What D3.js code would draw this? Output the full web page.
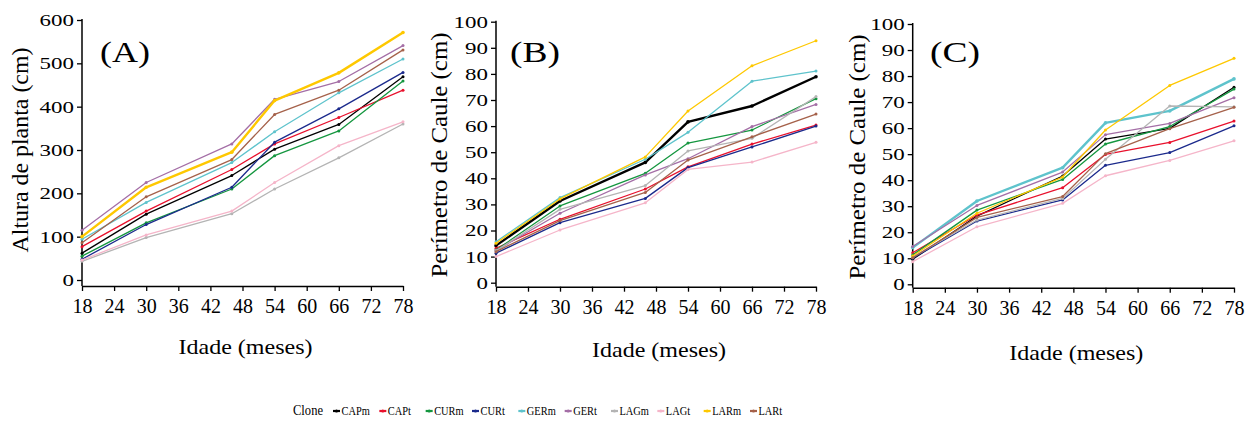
<!DOCTYPE html>
<html>
<head>
<meta charset="utf-8">
<title>Idade x crescimento</title>
<script src="https://d3js.org/d3.v7.min.js"></script>
<style>
	body { margin: 0; background: #fff; }
	svg text { font-family: "Liberation Serif", "Times New Roman", serif; fill: #000; }
</style>
</head>
<body>
<svg id="chart" width="1255" height="421"></svg>
<script>
	const FONTE = '"Liberation Serif", "Times New Roman", serif';
	// meses de avaliacao
	const months = [18, 30, 46, 54, 66, 78];
	const xTicks = [18, 24, 30, 36, 42, 48, 54, 60, 66, 72, 78];
	const clones = ["CAPm", "CAPt", "CURm", "CURt", "GERm", "GERt", "LAGm", "LAGt", "LARm", "LARt"];
	const cores = ["#000000", "#e8102c", "#14963f", "#1b2a8c", "#5ec3cc", "#a46ea6", "#b4b4b4", "#f5b5c9", "#fec800", "#a5614a"];

	// (A) altura de planta, cm - uma linha por clone
	const alturaPlanta = [
		[62, 152, 241, 302, 359, 469],
		[77, 159, 255, 314, 375, 438],
		[55, 132, 210, 287, 344, 459],
		[48, 128, 214, 318, 395, 479],
		[94, 179, 271, 342, 432, 510],
		[115, 225, 314, 417, 458, 541],
		[43, 98, 153, 210, 282, 360],
		[46, 104, 159, 225, 310, 365],
		[100, 214, 295, 414, 478, 571],
		[86, 192, 278, 382, 438, 531]
	];
	// (B) perimetro de caule, cm
	const perimetroB = [
		[14.2, 31.3, 46.1, 61.6, 67.7, 78.9],
		[13.2, 24.3, 35.9, 44.4, 53.1, 60.4],
		[12.5, 29.4, 41.9, 53.5, 58.5, 70.5],
		[11.3, 23.0, 32.3, 44.1, 52.0, 60.0],
		[15.7, 32.6, 47.3, 57.6, 77.2, 81.1],
		[12.3, 26.6, 41.3, 47.5, 59.8, 68.3],
		[12.2, 28.1, 37.2, 50.5, 55.3, 71.3],
		[10.0, 20.2, 30.6, 43.4, 46.2, 53.8],
		[15.1, 32.1, 48.2, 65.8, 83.1, 92.7],
		[11.9, 23.8, 34.6, 47.0, 55.9, 64.6]
	];
	// (C) perimetro de caule, cm
	const perimetroC = [
		[9.6, 26.2, 41.6, 55.8, 59.9, 75.7],
		[12.1, 26.6, 37.1, 49.9, 54.5, 62.7],
		[11.3, 28.5, 40.3, 53.9, 60.6, 75.0],
		[10.0, 24.3, 32.4, 45.7, 50.6, 60.9],
		[14.1, 32.0, 44.8, 62.0, 66.6, 78.9],
		[14.5, 30.3, 43.1, 57.5, 61.8, 71.7],
		[10.4, 24.7, 33.0, 48.0, 68.5, 68.2],
		[8.7, 22.1, 31.1, 41.7, 47.6, 55.1],
		[10.9, 27.3, 41.2, 59.3, 76.4, 86.8],
		[10.2, 25.7, 33.7, 50.2, 59.8, 68.0]
	];
	const yTicksA = [0, 100, 200, 300, 400, 500, 600];
	const yTicksBC = [0, 10, 20, 30, 40, 50, 60, 70, 80, 90, 100];

	const panels = [
		{ tag: "(A)", data: alturaPlanta, yMax: 600, yTicks: yTicksA, ylabel: "Altura de planta (cm)", ylabelLen: 205,
		  x0: 82, x1: 403, yTop: 20, yZero: 280, axisY: 286, ylabelX: 28, ylabelY: 150, tagX: 100, xlabelY: 354, thick: "LARm" },
		{ tag: "(B)", data: perimetroB, yMax: 100, yTicks: yTicksBC, ylabel: "Perímetro de Caule (cm)", ylabelLen: 245,
		  x0: 496, x1: 816, yTop: 21.7, yZero: 282.7, axisY: 286.7, ylabelX: 447, ylabelY: 155, tagX: 510, xlabelY: 357, thick: "CAPm" },
		{ tag: "(C)", data: perimetroC, yMax: 100, yTicks: yTicksBC, ylabel: "Perímetro de Caule (cm)", ylabelLen: 245,
		  x0: 912.7, x1: 1234, yTop: 24, yZero: 284.3, axisY: 287.7, ylabelX: 865, ylabelY: 157, tagX: 930, xlabelY: 360, thick: "GERm" }
	];

	const svg = d3.select("#chart");

	panels.forEach(p => {
		const x = d3.scaleLinear().domain([18, 78]).range([p.x0, p.x1]);
		const y = d3.scaleLinear().domain([0, p.yMax]).range([p.yZero, p.yTop]);
		const g = svg.append("g");

		// eixo x
		const gx = g.append("g")
			.attr("transform", `translate(0,${p.axisY})`)
			.call(d3.axisBottom(x).tickValues(xTicks).tickSize(5).tickSizeOuter(0).tickPadding(8));
		gx.attr("font-family", null);
		gx.select(".domain").attr("stroke-width", 1.5);
		gx.selectAll(".tick line").attr("stroke-width", 1.3);
		gx.selectAll("text").style("font-family", FONTE).style("font-size", "20px");

		// eixo y
		const gy = g.append("g")
			.attr("transform", `translate(${p.x0},0)`)
			.call(d3.axisLeft(y).tickValues(p.yTicks).tickSize(5).tickSizeOuter(0).tickPadding(1));
		gy.attr("font-family", null);
		gy.select(".domain").remove();
		gy.append("line")
			.attr("y1", p.yTop - 1).attr("y2", p.axisY)
			.attr("stroke", "#000").attr("stroke-width", 1.5);
		gy.selectAll(".tick line").attr("stroke-width", 1.3);
		gy.selectAll("text")
			.style("font-family", FONTE).style("font-size", "17px")
			.attr("transform", "scale(1.35,1)");

		// linhas
		const line = d3.line().x((d, i) => x(months[i])).y(d => y(d));
		p.data.forEach((serie, k) => {
			const grossa = clones[k] === p.thick;
			g.append("path")
				.datum(serie)
				.attr("d", line)
				.attr("fill", "none")
				.attr("stroke", cores[k])
				.attr("stroke-width", grossa ? 2.4 : 1.3)
				.attr("stroke-linejoin", "round");
			g.selectAll(null)
				.data(serie)
				.enter()
				.append("circle")
				.attr("cx", (d, i) => x(months[i]))
				.attr("cy", d => y(d))
				.attr("r", grossa ? 1.8 : 1.5)
				.attr("fill", cores[k]);
		});

		// textos
		g.append("text")
			.attr("x", p.tagX).attr("y", 62)
			.style("font-family", FONTE).style("font-size", "30px")
			.attr("textLength", 50).attr("lengthAdjust", "spacingAndGlyphs")
			.text(p.tag);

		g.append("text")
			.attr("transform", `translate(${p.ylabelX},${p.ylabelY}) rotate(-90)`)
			.attr("text-anchor", "middle")
			.style("font-family", FONTE).style("font-size", "23px")
			.attr("textLength", p.ylabelLen).attr("lengthAdjust", "spacingAndGlyphs")
			.text(p.ylabel);

		g.append("text")
			.attr("x", (p.x0 + p.x1) / 2 + 3).attr("y", p.xlabelY)
			.attr("text-anchor", "middle")
			.style("font-family", FONTE).style("font-size", "21px")
			.attr("textLength", 134).attr("lengthAdjust", "spacingAndGlyphs")
			.text("Idade (meses)");
	});

	// legenda
	const leg = svg.append("g");
	const lx = d3.scalePoint().domain(clones).range([333, 750]);
	leg.append("text")
		.attr("x", 293).attr("y", 415)
		.style("font-family", FONTE).style("font-size", "15px")
		.attr("textLength", 30).attr("lengthAdjust", "spacingAndGlyphs")
		.text("Clone");

	clones.forEach((c, k) => {
		const it = leg.append("g").attr("transform", `translate(${lx(c)},0)`);
		it.append("line")
			.attr("x1", 0).attr("x2", 7).attr("y1", 411).attr("y2", 411)
			.attr("stroke", cores[k]).attr("stroke-width", 2.2);
		it.append("circle").attr("cx", 3.5).attr("cy", 411).attr("r", 1.6).attr("fill", cores[k]);
		const t = it.append("text")
			.attr("x", 8.5).attr("y", 415)
			.style("font-family", FONTE).style("font-size", "13px")
			.text(c);
		const w = t.node().getComputedTextLength();
		t.attr("textLength", w * 0.8).attr("lengthAdjust", "spacingAndGlyphs");
	});
</script>
</body>
</html>
